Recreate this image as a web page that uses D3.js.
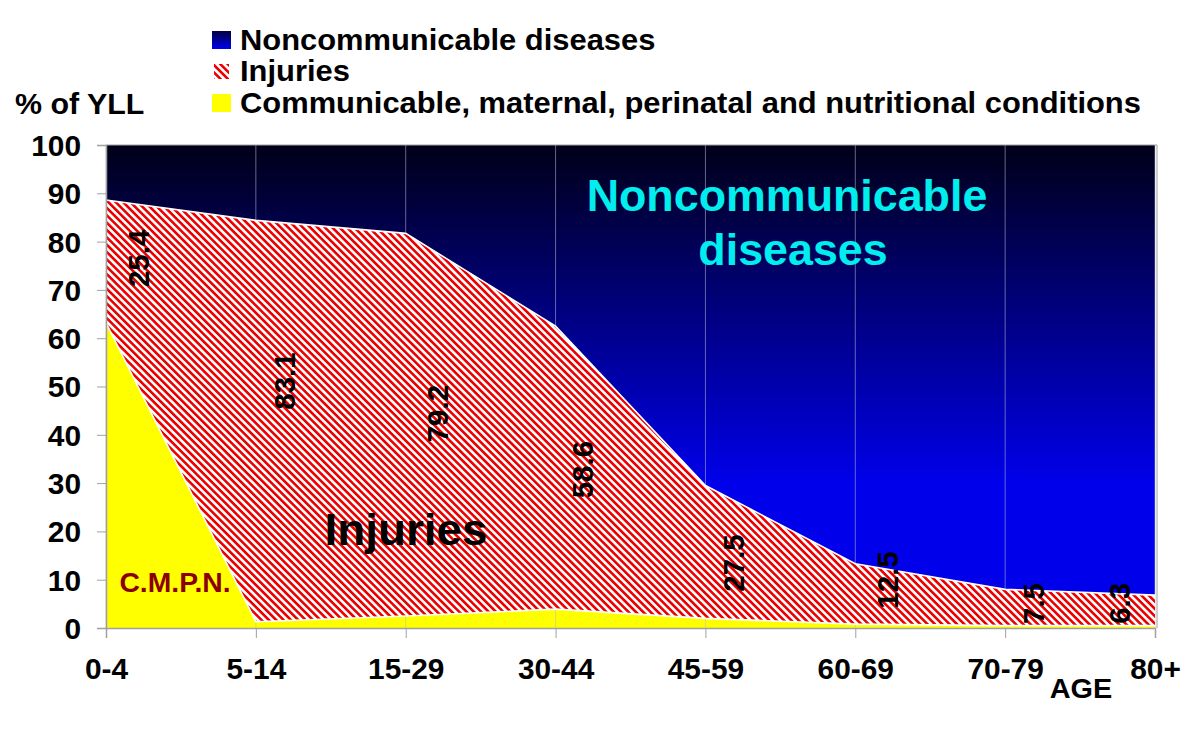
<!DOCTYPE html>
<html>
<head>
<meta charset="utf-8">
<script src="https://cdn.jsdelivr.net/npm/d3@7"></script>
<style>
  html, body { margin: 0; padding: 0; background: #fff; }
  svg { display: block; }
  text { font-family: "Liberation Sans", Arial, Helvetica, sans-serif; font-weight: bold; }
</style>
</head>
<body>
<svg id="chart" width="1200" height="732"></svg>
<script>
// ---------------- DATA ----------------
const categories = ["0-4", "5-14", "15-29", "30-44", "45-59", "60-69", "70-79", "80+"];
// % of YLL by cause group
const cmpnValues     = [63.2, 1.3, 2.5, 3.9, 2.0, 0.8, 0.5, 0.5];   // Communicable, maternal, perinatal and nutritional
const injuryValues   = [25.4, 83.1, 79.2, 58.6, 27.5, 12.5, 7.5, 6.3];
const ncdValues      = [11.4, 15.6, 18.3, 37.5, 70.5, 86.7, 92.0, 93.2];
const yTicks = [0, 10, 20, 30, 40, 50, 60, 70, 80, 90, 100];
const legendLabels = ["Noncommunicable diseases", "Injuries", "Communicable, maternal, perinatal and nutritional conditions"];
const yAxisTitle = "% of YLL";
const xAxisTitle = "AGE";
const areaLabels = { ncd: ["Noncommunicable", "diseases"], inj: "Injuries", cmpn: "C.M.P.N." };

// ---------------- LAYOUT ----------------
const SX = 1.03;                  // slight horizontal stretch of all text
const svg = d3.select("#chart");
const pL = 106, pR = 1155, pT = 145, pB = 628;

const x = d3.scalePoint().domain(categories).range([pL, pR]);
const y = d3.scaleLinear().domain([0, 100]).range([pB, pT]);

const rows = categories.map((c, i) => ({ cat: c, cmpn: cmpnValues[i], inj: injuryValues[i], ncd: ncdValues[i] }));
const stack = d3.stack().keys(["cmpn", "inj", "ncd"]);
const series = stack(rows);

const defs = svg.append("defs");
const grad = defs.append("linearGradient").attr("id", "ncdGrad")
  .attr("gradientUnits", "userSpaceOnUse")
  .attr("x1", 0).attr("x2", 0).attr("y1", y(100)).attr("y2", y(30));
grad.append("stop").attr("offset", "0%").attr("stop-color", "#000018");
grad.append("stop").attr("offset", "100%").attr("stop-color", "#0000ea");

const legGrad = defs.append("linearGradient").attr("id", "legGrad")
  .attr("x1", 0).attr("x2", 0).attr("y1", 0).attr("y2", 1);
legGrad.append("stop").attr("offset", "0%").attr("stop-color", "#000040");
legGrad.append("stop").attr("offset", "100%").attr("stop-color", "#0000ee");

const HP = 5.2;
const hatch = defs.append("pattern").attr("id", "hatch")
  .attr("patternUnits", "userSpaceOnUse").attr("width", HP).attr("height", HP)
  .attr("patternTransform", "rotate(-45)");
hatch.append("rect").attr("width", HP).attr("height", HP).attr("fill", "#ffffff");
hatch.append("rect").attr("width", 2.6).attr("height", HP).attr("fill", "#ee0000");

const area = d3.area().x(d => x(d.data.cat)).y0(d => y(d[0])).y1(d => y(d[1]));
const fills = { cmpn: "#ffff00", inj: "url(#hatch)", ncd: "url(#ncdGrad)" };

// blue + yellow areas
series.filter(s => s.key !== "inj").forEach(s => {
  svg.append("path").datum(s).attr("d", area).attr("fill", fills[s.key]);
});

// vertical gridlines
svg.append("g").selectAll("line").data(categories).join("line")
  .attr("x1", d => x(d)).attr("x2", d => x(d))
  .attr("y1", pT).attr("y2", pB)
  .attr("stroke", "#b8b8d8").attr("stroke-opacity", 0.55).attr("stroke-width", 1);

// injuries hatched area
const injS = series.find(s => s.key === "inj");
svg.append("path").datum(injS).attr("d", area).attr("fill", fills.inj);

// white boundary lines
const line = d3.line().x(d => x(d.data.cat)).y(d => y(d[1]));
series.filter(s => s.key !== "ncd").forEach(s => {
  svg.append("path").datum(s).attr("d", line).attr("fill", "none")
    .attr("stroke", "#ffffff").attr("stroke-width", 1.6);
});

// frame
svg.append("line").attr("x1", pL).attr("x2", pR + 2).attr("y1", pT).attr("y2", pT).attr("stroke", "#a0a0a0");
svg.append("line").attr("x1", pR + 2).attr("x2", pR + 2).attr("y1", pT).attr("y2", pB).attr("stroke", "#a0a0a0");

// axes
const yAxis = d3.axisLeft(y).tickValues(yTicks).tickSize(9).tickPadding(16);
const gy = svg.append("g").attr("transform", `translate(${pL},0)`).call(yAxis);
gy.select(".domain").attr("stroke", "#a0a0a0").attr("stroke-width", 1.5);
gy.selectAll(".tick line").attr("stroke", "#a0a0a0");
gy.selectAll(".tick text").attr("font-size", 29).attr("fill", "#000")
  .attr("font-family", "Liberation Sans, Arial, sans-serif").attr("font-weight", "bold")
  .attr("dy", "0.36em")
  .attr("transform", function () { const xx = +d3.select(this).attr("x"); return `translate(${xx*(1-SX)},0) scale(${SX},1)`; });

const xAxis = d3.axisBottom(x).tickSize(10).tickPadding(12);
const gx = svg.append("g").attr("transform", `translate(0,${pB})`).call(xAxis);
gx.select(".domain").attr("stroke", "#a0a0a0").attr("stroke-width", 1.5);
gx.selectAll(".tick line").attr("stroke", "#a0a0a0");
gx.selectAll(".tick text").attr("font-size", 29).attr("fill", "#000")
  .attr("font-family", "Liberation Sans, Arial, sans-serif").attr("font-weight", "bold")
  .attr("transform", `scale(${SX},1)`).attr("x", 0)
  .attr("y", 51).attr("dy", 0);

// text helper
function txt(xp, yp, s, size, opts = {}) {
  const t = svg.append("text")
    .attr("transform", `translate(${xp},${yp}) scale(${SX},1)` + (opts.rotate ? " rotate(-90)" : ""))
    .attr("font-size", size).attr("fill", opts.fill || "#000")
    .attr("text-anchor", opts.anchor || "start")
    .text(s);
  if (opts.central) t.attr("dominant-baseline", "central");
  return t;
}

// axis titles
txt(15, 114, yAxisTitle, 29.5);
txt(1081, 698, xAxisTitle, 28, { anchor: "middle" });

// legend
const legY = [50, 81, 113];
legendLabels.forEach((l, i) => txt(240, legY[i], l, 30));
svg.append("rect").attr("x", 212).attr("y", 31).attr("width", 19).attr("height", 18).attr("fill", "url(#legGrad)");
svg.append("rect").attr("x", 214).attr("y", 64).attr("width", 15).attr("height", 15).attr("fill", "url(#hatch)");
svg.append("rect").attr("x", 212).attr("y", 94).attr("width", 19).attr("height", 18).attr("fill", "#ffff00");

// in-chart labels
txt(787, 211, areaLabels.ncd[0], 43.5, { anchor: "middle", fill: "#00eeee" });
txt(793, 265, areaLabels.ncd[1], 43.5, { anchor: "middle", fill: "#00eeee" });
txt(406, 545, areaLabels.inj, 44.5, { anchor: "middle" });
txt(175, 592, areaLabels.cmpn, 27.5, { anchor: "middle", fill: "#8b0000" });

// value labels (injury share), rotated
const labelDx = [32, 28, 32, 27, 28, 32, 28, -36];
const labelDy = [-3, -40, -11, 2, 11, -14, -4, -7];
rows.forEach((r, i) => {
  const cx = x(r.cat) + labelDx[i];
  const cy = y(r.cmpn + r.inj / 2) + labelDy[i];
  txt(cx, cy, r.inj.toFixed(1), 29.5, { anchor: "middle", rotate: true, central: true });
});
</script>
</body>
</html>
